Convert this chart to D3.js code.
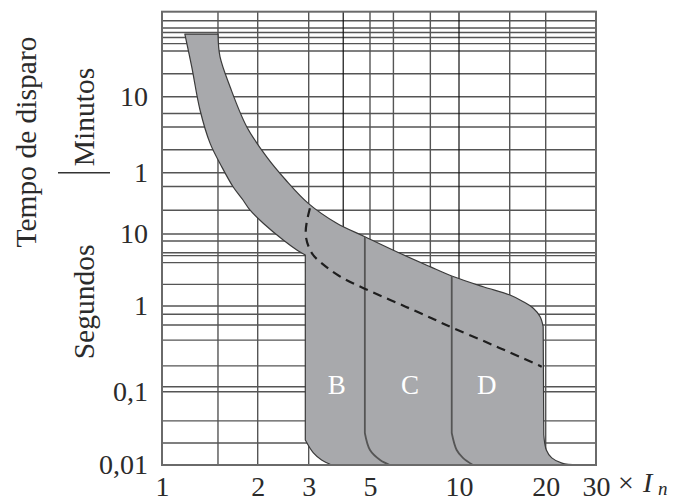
<!DOCTYPE html>
<html lang="pt">
<head>
<meta charset="utf-8" />
<title>Tempo de disparo</title>
<script src="https://d3js.org/d3.v7.min.js"></script>
<style>
  body { margin: 0; background: #fff; }
  svg text { font-family: "Liberation Serif", "DejaVu Serif", serif; fill: #2b2b2b; }
  .grid line { stroke: #555; stroke-width: 1.4; }
  .grid line.dark { stroke: #111; stroke-width: 1.2; }
  .zone { fill: #a8a9ac; stroke: #3a3a3a; stroke-width: 1.2; stroke-linejoin: round; }
  .inner { fill: none; stroke: #555; stroke-width: 1.8; }
  .dashed { fill: none; stroke: #1e1e1e; stroke-width: 2.2; stroke-dasharray: 9 6; }
  .frame { fill: none; stroke: #6a6a6a; stroke-width: 2; }
</style>
</head>
<body>
<svg width="683" height="502"></svg>
<script>
// x: multiples of In, y: trip time in seconds
var xTicks = [1, 2, 3, 5, 10, 20, 30];
var xGrid = [1.5, 2, 3, 4, 5, 6, 8, 10, 15, 20];
var xDark = [4, 10];
var yTicks = [0.01, 0.1, 1, 10, 60, 600];
var yTickLabels = ["0,01", "0,1", "1", "10", "1", "10"];
var yGrid = [0.02, 0.04, 0.1, 0.114, 0.2, 0.4, 0.6, 0.8, 1, 2, 4, 5, 5.5, 8, 10,
  20, 40, 60, 120, 240, 360, 600, 1200, 2400, 3000, 3600, 4200, 4800, 6000];

// outline of the tripping zone
var topCap = [[1.18, 4000], [1.5, 4000]];
var upperEdge = [[1.5, 4000], [1.522, 2016], [1.637, 812], [1.847, 242], [2.148, 97],
  [2.5, 48.5], [2.99, 24.5], [3.79, 13.7], [4.79, 9.17], [6.31, 5.4], [7.98, 3.52],
  [9.45, 2.61], [12.14, 1.85], [15.03, 1.42], [16.72, 1.147], [18.11, 0.94],
  [19.13, 0.75], [19.6, 0.574]];
var dFoot = [[19.7, 0.0257], [20.1, 0.016], [21.0, 0.0125], [22.8, 0.0106], [25.9, 0.01]];
var bFoot = [[3.63, 0.01], [3.34, 0.0117], [3.12, 0.0146], [2.92, 0.0219]];
var lowerEdge = [[1.18, 4000], [1.24, 1489], [1.317, 401], [1.416, 147], [1.541, 72],
  [1.673, 39.8], [1.798, 27], [1.89, 20.2], [2.09, 13.7], [2.45, 8.25], [2.73, 6.0],
  [2.92, 5.1]];
var cLine = [[4.79, 9.17], [4.79, 0.0273], [5.0, 0.016], [5.41, 0.0117], [5.84, 0.01]];
var dLine = [[9.45, 2.61], [9.45, 0.0273], [9.82, 0.016], [10.32, 0.0125], [11.18, 0.01]];
var dashedLine = [[3.03, 21.2], [2.94, 13.7], [2.91, 8.71], [3.08, 5.11], [3.29, 4.12],
  [3.84, 2.55], [4.79, 1.73], [5.84, 1.22], [6.83, 0.932], [8.08, 0.723], [9.32, 0.57],
  [12.14, 0.393], [14.25, 0.31], [17.18, 0.235], [19.37, 0.196]];
var curveNames = ["B", "C", "D"];
var curveNameX = [3.79, 6.83, 12.48];
var curveNameT = 0.12;

var svg = d3.select("svg");

// the paper grid is not quite logarithmic, so both scales are piecewise
var x = d3.scaleLog()
  .domain([1, 2, 3, 5, 10, 20, 30])
  .range([162, 257.7, 308.7, 370, 459, 545.7, 596]);
var y = d3.scaleLog()
  .domain([0.01, 0.1, 1, 10, 60, 600, 6000, 7800])
  .range([465, 391.7, 306, 234, 172.7, 96.7, 20.7, 11.7]);

var x0 = x(1), x1 = x(30), yTop = y(7800), yBot = y(0.01);

// grid
var grid = svg.append("g").attr("class", "grid");
grid.selectAll("line.h").data(yGrid).enter().append("line")
  .attr("class", "h")
  .attr("x1", x0).attr("x2", x1)
  .attr("y1", function (d) { return y(d); })
  .attr("y2", function (d) { return y(d); });
grid.selectAll("line.v").data(xGrid).enter().append("line")
  .attr("class", function (d) { return xDark.indexOf(d) >= 0 ? "v dark" : "v"; })
  .attr("y1", yTop).attr("y2", yBot)
  .attr("x1", function (d) { return x(d); })
  .attr("x2", function (d) { return x(d); });

// zone
var straight = d3.line()
  .x(function (d) { return x(d[0]); })
  .y(function (d) { return y(d[1]); });
var smooth = d3.line()
  .x(function (d) { return x(d[0]); })
  .y(function (d) { return y(d[1]); })
  .curve(d3.curveCatmullRom.alpha(0.5));
var soft = d3.line()
  .x(function (d) { return x(d[0]); })
  .y(function (d) { return y(d[1]); })
  .curve(d3.curveBasis);

function joinPaths(parts, close) {
  return parts.map(function (p, i) { return i ? p.replace(/^M/, "L") : p; }).join("") + (close ? "Z" : "");
}

svg.append("path")
  .attr("class", "zone")
  .attr("d", joinPaths([
    straight(topCap),
    smooth(upperEdge),
    smooth(dFoot),
    smooth(bFoot),
    smooth(lowerEdge.slice().reverse())
  ], true));

[cLine, dLine].forEach(function (ln) {
  svg.append("path").attr("class", "inner")
    .attr("d", joinPaths([straight(ln.slice(0, 2)), smooth(ln.slice(1))], false));
});
svg.append("path").attr("class", "dashed").attr("d", soft(dashedLine));

svg.selectAll("text.curve").data(curveNames).enter().append("text")
  .attr("class", "curve")
  .attr("x", function (d, i) { return x(curveNameX[i]); })
  .attr("y", y(curveNameT))
  .attr("dy", "0.35em")
  .attr("text-anchor", "middle")
  .style("fill", "#fff")
  .style("font-size", "27px")
  .text(function (d) { return d; });

// frame
svg.append("rect")
  .attr("class", "frame")
  .attr("x", x0).attr("y", yTop)
  .attr("width", x1 - x0).attr("height", yBot - yTop);

// axes
var yAxis = svg.append("g")
  .attr("transform", "translate(" + x0 + ",0)")
  .call(d3.axisLeft(y).tickValues(yTicks).tickSize(0).tickPadding(14)
    .tickFormat(function (d, i) { return yTickLabels[i]; }));
yAxis.select(".domain").remove();
yAxis.selectAll("text").style("font-size", "28px").attr("fill", null);

var xAxis = svg.append("g")
  .attr("transform", "translate(0," + yBot + ")")
  .call(d3.axisBottom(x).tickValues(xTicks).tickSize(0).tickPadding(11)
    .tickFormat(d3.format("d")));
xAxis.select(".domain").remove();
xAxis.selectAll("text").style("font-size", "28px").attr("fill", null);

var unit = svg.append("text").attr("y", 492).style("font-size", "28px");
unit.append("tspan").attr("x", 618).text("×");
unit.append("tspan").attr("x", 643).style("font-style", "italic").text("I");
unit.append("tspan").attr("x", 658).attr("dy", 3).style("font-style", "italic")
  .style("font-size", "19px").text("n");

// axis titles
svg.append("text")
  .attr("transform", "translate(36,142) rotate(-90)")
  .attr("text-anchor", "middle")
  .style("font-size", "29.5px")
  .text("Tempo de disparo");
svg.append("text")
  .attr("transform", "translate(94,117) rotate(-90)")
  .attr("text-anchor", "middle")
  .style("font-size", "29.5px")
  .text("Minutos");
svg.append("text")
  .attr("transform", "translate(94,302) rotate(-90)")
  .attr("text-anchor", "middle")
  .style("font-size", "29.5px")
  .text("Segundos");
svg.append("line")
  .attr("x1", 58).attr("x2", 110)
  .attr("y1", y(60)).attr("y2", y(60))
  .attr("stroke", "#333").attr("stroke-width", 1.6);
</script>
</body>
</html>
